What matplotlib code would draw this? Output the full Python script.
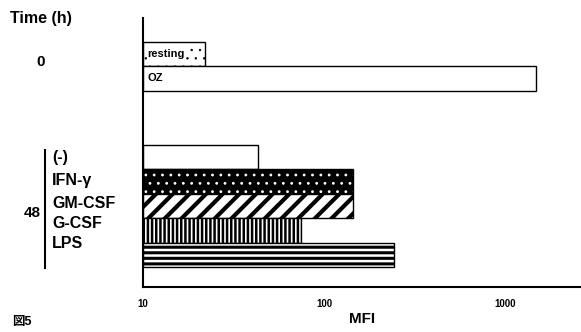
import matplotlib.pyplot as plt
import numpy as np

plt.rcParams['font.family'] = ['Liberation Sans', 'Noto Sans CJK JP']

# time 0 h
labels_0h = ["resting", "OZ"]
mfi_0h = [22, 1480]

# time 48 h
labels_48h = ["(-)", "IFN-\u03b3", "GM-CSF", "G-CSF", "LPS"]
mfi_48h = [43, 145, 145, 75, 245]

x_ticks = [10, 100, 1000]

# hatch style per bar: (face, hatch colour, hatch, hatch width)
styles_0h = [("white", "black", "..", 0.5), ("white", "black", "", 1.0)]
styles_48h = [("white", "black", "", 1.0),
              ("black", "white", "..", 0.8),
              ("white", "black", "//", 3.0),
              ("white", "black", "||||", 1.8),
              ("white", "black", "---", 2.2)]

fig = plt.figure(figsize=(5.81, 3.32), dpi=100)
ax = fig.add_axes([0.246, 0.136, 0.754, 0.81])

pos_0h = np.arange(len(labels_0h))
pos_48h = np.arange(len(labels_48h)) + 4.2


def hbar(p, v, style):
    face, hcol, hatch, hlw = style
    plt.rcParams['hatch.linewidth'] = hlw
    b = ax.barh(p, v - 10, left=10, height=1.0, color=face, edgecolor=hcol,
                hatch=hatch, linewidth=0)
    for patch in b:
        if hasattr(patch, "set_hatch_linewidth"):
            patch.set_hatch_linewidth(hlw)
    ax.barh(p, v - 10, left=10, height=1.0, fill=False, edgecolor="black", linewidth=1.0)


for p, v, s in zip(pos_0h, mfi_0h, styles_0h):
    hbar(p, v, s)
for p, v, s in zip(pos_48h, mfi_48h, styles_48h):
    hbar(p, v, s)

for p, lab in zip(pos_0h, labels_0h):
    ax.text(10.6, p, lab, va="center", ha="left", fontsize=8, fontweight="bold",
            bbox=dict(facecolor="white", edgecolor="none", pad=0.5))

ax.set_xscale("log")
ax.set_xlim(10, 2630)
ax.set_ylim(9.5, -1.47)
ax.set_yticks([])
ax.set_xticks(x_ticks)
ax.set_xticklabels([str(t) for t in x_ticks], fontsize=7, fontweight="bold")
ax.xaxis.set_minor_locator(plt.NullLocator())
ax.tick_params(axis="x", length=0, pad=9)
ax.spines["top"].set_visible(False)
ax.spines["right"].set_visible(False)
ax.spines["left"].set_linewidth(1.5)
ax.spines["bottom"].set_linewidth(1.5)
ax.set_xlabel("MFI", fontsize=11, fontweight="bold", labelpad=2)


def fy(px):
    return 1 - px / 332


def fx(px):
    return px / 581


fig.text(fx(10), fy(18), "Time (h)", fontsize=11.5, fontweight="bold", va="center")
fig.text(fx(36), fy(62), "0", fontsize=11, fontweight="bold", va="center")
fig.text(fx(24), fy(213), "48", fontsize=11, fontweight="bold", va="center")
fig.add_artist(plt.Line2D([fx(45), fx(45)], [fy(150), fy(268)], color="black", lw=1.5))
label_y = [158, 181, 203, 223, 243]
for lab, yy in zip(labels_48h, label_y):
    fig.text(fx(52), fy(yy), lab, fontsize=11.5, fontweight="bold", va="center")
fig.text(fx(12), fy(322), "図5", fontsize=9, fontweight="bold", va="center")

fig.savefig("out.png", dpi=100)
